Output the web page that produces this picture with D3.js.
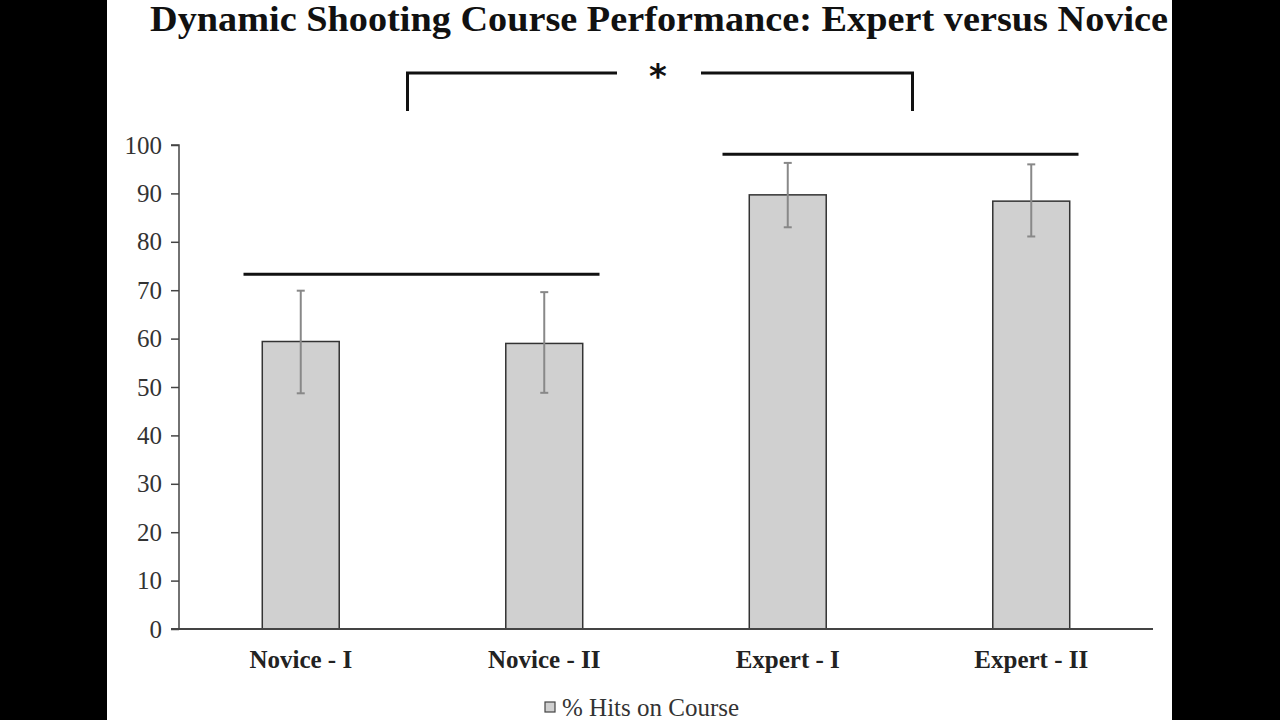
<!DOCTYPE html>
<html><head><meta charset="utf-8">
<script src="https://cdn.jsdelivr.net/npm/d3@7"></script>
<style>body{margin:0;background:#000;}svg{display:block;}</style>
</head><body>
<script>
const categories = ["Novice - I", "Novice - II", "Expert - I", "Expert - II"];
const values = [59.4, 59.0, 89.7, 88.4];
const errLow = [48.7, 48.8, 83.0, 81.1];
const errHigh = [69.9, 69.6, 96.3, 96.0];
const yTicks = [0, 10, 20, 30, 40, 50, 60, 70, 80, 90, 100];
const groupLines = [ {from: 0, to: 1, level: 73.3, shift: -1}, {from: 2, to: 3, level: 98.1, shift: -9} ];
const seriesName = "% Hits on Course";
const title = "Dynamic Shooting Course Performance: Expert versus Novice";

const W = 1280, H = 720;
const svg = d3.select("body").append("svg").attr("width", W).attr("height", H);
svg.append("rect").attr("x", 0).attr("y", 0).attr("width", W).attr("height", H).attr("fill", "#000");
svg.append("rect").attr("x", 107).attr("y", 0).attr("width", 1065).attr("height", H).attr("fill", "#fff");

const serif = "'Liberation Serif', 'Times New Roman', serif";
const x0 = 179, x1 = 1153, yBase = 629, yTop = 145;
const x = d3.scaleBand().domain(categories).range([x0, x1]).paddingInner(0.684).paddingOuter(0.342);
const y = d3.scaleLinear().domain([0, 100]).range([yBase, yTop]);

// title
svg.append("text").attr("x", 150).attr("y", 31)
  .attr("textLength", 1018).attr("lengthAdjust", "spacingAndGlyphs")
  .attr("font-family", serif).attr("font-weight", "bold").attr("font-size", 36).attr("fill", "#111").text(title);

// y axis
const yAxis = svg.append("g").attr("transform", `translate(${x0},0)`)
  .call(d3.axisLeft(y).tickValues(yTicks).tickSize(8).tickPadding(9));
yAxis.select(".domain").attr("stroke", "#444").attr("stroke-width", 1.5).attr("d", `M-8,${yTop}H0V${yBase}`);
yAxis.selectAll(".tick line").attr("stroke", "#444").attr("stroke-width", 1.5);
yAxis.selectAll(".tick text").attr("font-family", serif).attr("font-size", 25).attr("fill", "#333");

// bars
svg.selectAll(".bar").data(categories).join("rect")
  .attr("x", d => x(d)).attr("width", x.bandwidth())
  .attr("y", (d, i) => y(values[i])).attr("height", (d, i) => y(0) - y(values[i]))
  .attr("fill", "#d0d0d0").attr("stroke", "#333").attr("stroke-width", 1.5);

// x axis line
svg.append("line").attr("x1", x0 - 8).attr("x2", x1).attr("y1", yBase).attr("y2", yBase)
  .attr("stroke", "#444").attr("stroke-width", 2);

// error bars
const cx = d => x(d) + x.bandwidth() / 2;
const eb = svg.append("g").attr("stroke", "#888").attr("stroke-width", 2);
categories.forEach((c, i) => {
  eb.append("line").attr("x1", cx(c)).attr("x2", cx(c)).attr("y1", y(errLow[i])).attr("y2", y(errHigh[i]));
  eb.append("line").attr("x1", cx(c) - 4).attr("x2", cx(c) + 4).attr("y1", y(errLow[i])).attr("y2", y(errLow[i]));
  eb.append("line").attr("x1", cx(c) - 4).attr("x2", cx(c) + 4).attr("y1", y(errHigh[i])).attr("y2", y(errHigh[i]));
});

// x labels
svg.selectAll(".xl").data(categories).join("text")
  .attr("x", d => cx(d)).attr("y", 668).attr("text-anchor", "middle")
  .attr("font-family", serif).attr("font-weight", "bold").attr("font-size", 25).attr("fill", "#222").text(d => d);

// group lines
const lineHalf = 178;
groupLines.forEach(g => {
  const mid = (cx(categories[g.from]) + cx(categories[g.to])) / 2 + g.shift;
  svg.append("line").attr("x1", mid - lineHalf).attr("x2", mid + lineHalf)
    .attr("y1", y(g.level)).attr("y2", y(g.level)).attr("stroke", "#111").attr("stroke-width", 3);
});

// significance bracket
const m1 = (cx(categories[0]) + cx(categories[1])) / 2 - 15;
const m2 = (cx(categories[2]) + cx(categories[3])) / 2 + 3;
const by = 73, legY = 111, cMid = 659;
svg.append("path").attr("d", `M${m1},${legY}V${by}H${cMid - 42}`).attr("fill", "none").attr("stroke", "#111").attr("stroke-width", 3);
svg.append("path").attr("d", `M${cMid + 42},${by}H${m2}V${legY}`).attr("fill", "none").attr("stroke", "#111").attr("stroke-width", 3);
svg.append("text").attr("x", cMid - 1).attr("y", 88).attr("text-anchor", "middle")
  .attr("font-family", "'DejaVu Sans', sans-serif").attr("font-weight", "bold").attr("font-size", 34).attr("fill", "#111").text("*");

// legend
svg.append("rect").attr("x", 545).attr("y", 702).attr("width", 10).attr("height", 10)
  .attr("fill", "#d0d0d0").attr("stroke", "#444").attr("stroke-width", 1.2);
svg.append("text").attr("x", 562).attr("y", 716).attr("font-family", serif).attr("font-size", 25)
  .attr("fill", "#333").text(seriesName);
</script>
</body></html>
